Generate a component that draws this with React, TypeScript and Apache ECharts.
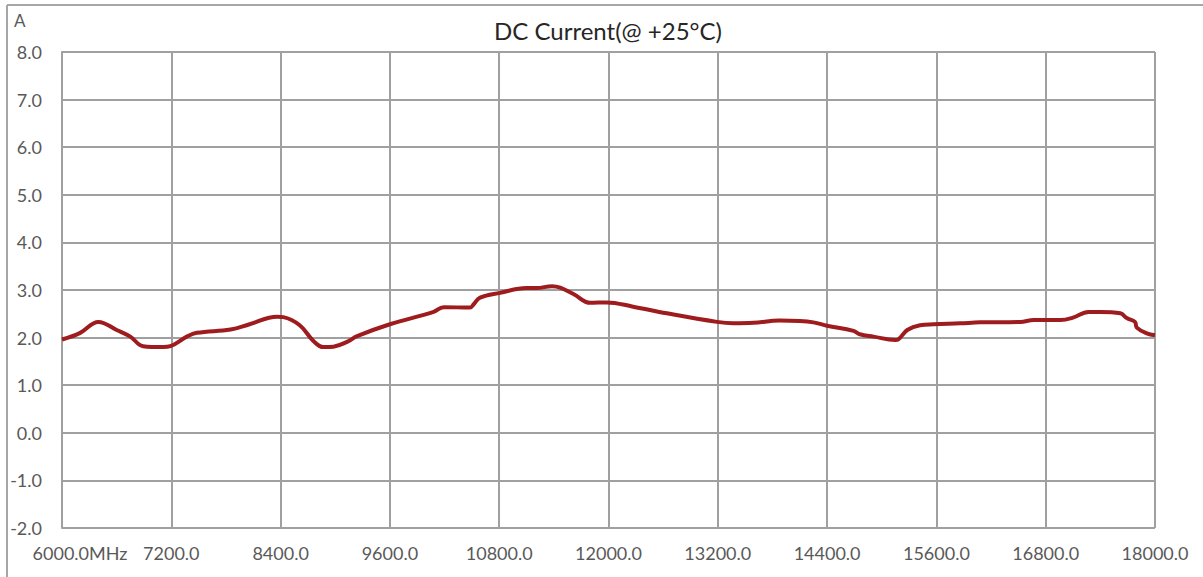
import React, { useEffect, useRef } from "react";
import * as echarts from "echarts";

const freqs = [6000, 6200, 6400, 6600, 6750, 6890, 7110, 7190, 7370, 7480, 7850, 8060, 8360, 8430, 8610, 8760, 8870, 8980, 9130, 9240, 9600, 10080, 10190, 10480, 10520, 10590, 10810, 11100, 11210, 11380, 11470, 11620, 11800, 11980, 12270, 12640, 13190, 13370, 13590, 13880, 14100, 14250, 14400, 14690, 14760, 14910, 15150, 15180, 15280, 15420, 15570, 15860, 16080, 16520, 16670, 16960, 17100, 17270, 17400, 17620, 17690, 17780, 17800, 17910, 18000];
const currents = [1.96, 2.1, 2.33, 2.16, 2.02, 1.82, 1.8, 1.82, 2.02, 2.1, 2.17, 2.28, 2.44, 2.43, 2.26, 1.93, 1.8, 1.81, 1.91, 2.03, 2.28, 2.54, 2.64, 2.63, 2.7, 2.84, 2.94, 3.04, 3.04, 3.08, 3.05, 2.91, 2.73, 2.74, 2.65, 2.51, 2.33, 2.3, 2.31, 2.36, 2.35, 2.32, 2.25, 2.14, 2.07, 2.02, 1.95, 1.96, 2.16, 2.26, 2.28, 2.3, 2.32, 2.33, 2.37, 2.37, 2.42, 2.54, 2.54, 2.51, 2.41, 2.33, 2.21, 2.09, 2.05];

const titleText = "DC Current(@ +25°C)";
const yUnit = "A";
const xMin = 6000;
const xMax = 18000;
const xStep = 1200;
const yMin = -2;
const yMax = 8;
const yStep = 1;

export default function App() {
  const ref = useRef<HTMLDivElement>(null);
  useEffect(() => {
    if (!ref.current) return;
    const chart = echarts.init(ref.current, null, { renderer: "svg" });
    const font = "Lato, 'Open Sans', sans-serif";
    chart.setOption({
      animation: false,
      backgroundColor: "#ffffff",
      title: {
        text: titleText,
        left: 603,
        textAlign: "center",
        top: 13,
        textStyle: { fontSize: 24, fontWeight: "normal", color: "#262626", fontFamily: font },
      },
      graphic: [
        { type: "line", shape: { x1: 7, y1: 5, x2: 1203, y2: 5 }, style: { stroke: "#a6a6a6", lineWidth: 2 } },
        { type: "line", shape: { x1: 7, y1: 5, x2: 7, y2: 577 }, style: { stroke: "#a6a6a6", lineWidth: 2 } },
        { type: "text", left: 14, top: 12, style: { text: yUnit, fontSize: 17, fill: "#595959", fontFamily: font } },
      ],
      grid: { left: 62, right: 48, top: 52, bottom: 49, containLabel: false },
      xAxis: {
        type: "value",
        min: xMin,
        max: xMax,
        interval: xStep,
        axisLine: { show: true, lineStyle: { color: "#a0a0a0", width: 2 } },
        axisTick: { show: false },
        splitLine: { show: true, lineStyle: { color: "#a0a0a0", width: 2 } },
        axisLabel: {
          margin: 16,
          fontSize: 18,
          color: "#595959",
          fontFamily: font,
          formatter: (v: number) => (v === xMin ? "{first|" + v.toFixed(1) + "MHz}" : v.toFixed(1)),
          rich: {
            first: { fontSize: 18, color: "#595959", fontFamily: font, padding: [0, 0, 0, 36] },
          },
        },
      },
      yAxis: {
        type: "value",
        min: yMin,
        max: yMax,
        interval: yStep,
        axisLine: { show: true, lineStyle: { color: "#a0a0a0", width: 2 } },
        axisTick: { show: false },
        splitLine: { show: true, lineStyle: { color: "#a0a0a0", width: 2 } },
        axisLabel: {
          margin: 20,
          fontSize: 18,
          color: "#595959",
          fontFamily: font,
          formatter: (v: number) => v.toFixed(1),
        },
      },
      series: [
        {
          type: "line",
          data: freqs.map((f, i) => [f, currents[i]]),
          smooth: 0.4,
          showSymbol: false,
          lineStyle: { color: "#9e1b1e", width: 4 },
        },
      ],
    });
    return () => chart.dispose();
  }, []);
  return <div ref={ref} style={{ position: "absolute", left: 0, top: 0, width: 1203, height: 577 }} />;
}
